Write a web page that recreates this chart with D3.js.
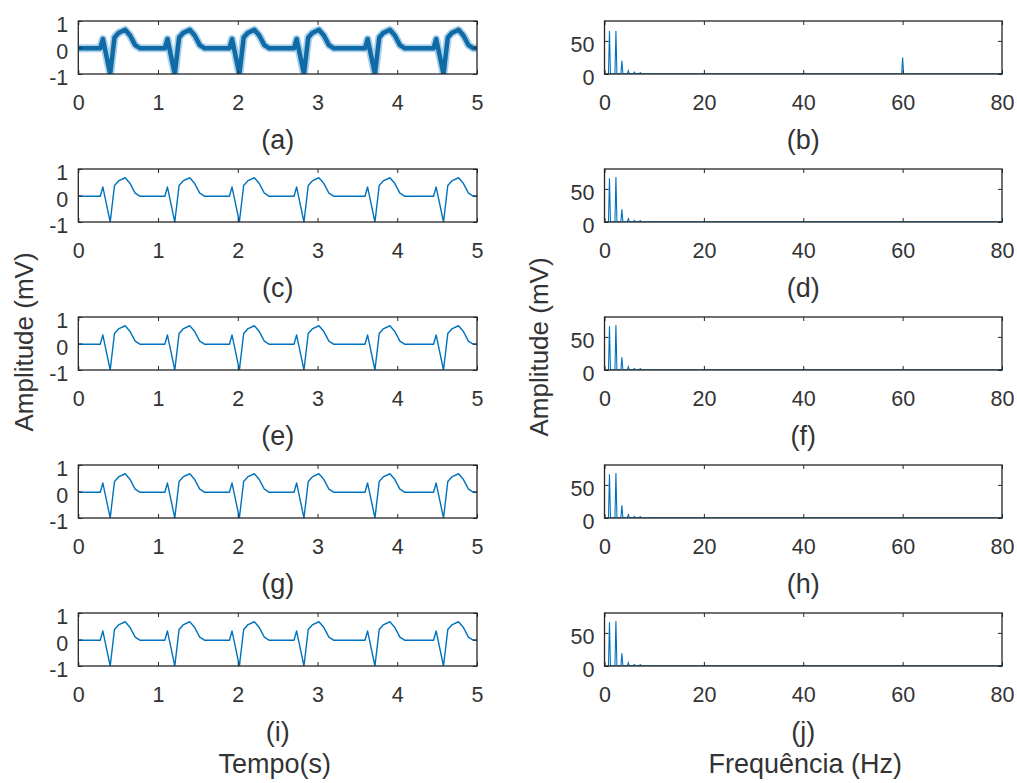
<!DOCTYPE html>
<html>
<head>
<meta charset="utf-8">
<script src="https://cdn.jsdelivr.net/npm/d3@7"></script>
<style>
  body { margin: 0; background: #fff; }
  text { font-family: "Liberation Sans", Arial, sans-serif; fill: #333; }
</style>
</head>
<body>
<svg id="chart" width="1017" height="783"></svg>
<script>
// ECG beat: trough times (s) and the shape around each trough
const beatTimes = [0.40, 1.21, 2.02, 2.83, 3.72, 4.58];
const beatOffsets = [-0.125, -0.092, 0, 0.054, 0.104, 0.188, 0.25, 0.313, 0.376];
const beatValues = [-0.03, 0.32, -1, 0.38, 0.55, 0.67, 0.45, 0.09, -0.03];
const baselineValue = -0.03;

// spectrum peaks (Hz) and amplitudes
const peakFreqs = [1.0, 2.3, 3.5, 4.8, 6.0, 7.2];
const peakAmpsNoisy = [65, 65, 20, 5, 3, 2];
const peakAmpsFiltered = [66, 68, 19, 5, 2.5, 2];
const mainsFreq = 60;
const mainsAmp = 25;

// ticks and labels
const timeTicks = [0, 1, 2, 3, 4, 5];
const ampTicks = [-1, 0, 1];
const freqTicks = [0, 20, 40, 60, 80];
const specTicks = [0, 50];
const timeLetters = ["(a)", "(c)", "(e)", "(g)", "(i)"];
const freqLetters = ["(b)", "(d)", "(f)", "(h)", "(j)"];

const svg = d3.select("#chart");
const rowTop = 21;
const rowStep = 148;
const boxH = 53;
const leftX = [78.3, 477];
const rightX = [604.5, 1002];
const blue = "#0072BD";

// time-domain signal built from the beat shape
function ecgPoints() {
  const pts = [[0, baselineValue]];
  beatTimes.forEach((t) => {
    beatOffsets.forEach((o, i) => pts.push([t + o, beatValues[i]]));
  });
  pts.push([5, baselineValue]);
  return pts.filter((p) => p[0] >= 0 && p[0] <= 5);
}

// spectrum as narrow triangles on a zero floor
function spectrumPoints(amps, extra) {
  const peaks = peakFreqs.map((f, i) => [f, amps[i]]);
  if (extra) peaks.push(extra);
  peaks.sort((a, b) => a[0] - b[0]);
  const pts = [[0, 0]];
  peaks.forEach(([f, a]) => {
    pts.push([f - 0.2, 0.4], [f, a], [f + 0.2, 0.4]);
  });
  pts.push([80, 0.3]);
  return pts;
}

function panel(i, side, letter) {
  const top = rowTop + i * rowStep;
  const bottom = top + boxH;
  const xr = side === "left" ? leftX : rightX;
  const x = d3.scaleLinear().domain(side === "left" ? [0, 5] : [0, 80]).range(xr);
  const y = d3.scaleLinear().domain(side === "left" ? [-1, 1] : [0, 80]).range([bottom, top]);
  const xt = side === "left" ? timeTicks : freqTicks;
  const yt = side === "left" ? ampTicks : specTicks;
  const g = svg.append("g");
  const clipId = `clip-${side}-${i}`;

  g.append("clipPath")
    .attr("id", clipId)
    .append("rect")
    .attr("x", xr[0])
    .attr("y", top)
    .attr("width", xr[1] - xr[0])
    .attr("height", boxH);

  const line = d3.line().x((d) => x(d[0])).y((d) => y(d[1]));
  const plot = g.append("g").attr("clip-path", `url(#${clipId})`);

  if (side === "left") {
    const pts = ecgPoints();
    if (i === 0) {
      // 60 Hz contamination shows as a thick band
      plot.append("path").attr("d", line(pts)).attr("fill", "none")
        .attr("stroke", "#6fb3de").attr("stroke-width", 8).attr("opacity", 0.6)
        .attr("stroke-linejoin", "round");
      plot.append("path").attr("d", line(pts)).attr("fill", "none")
        .attr("stroke", "#106aa5").attr("stroke-width", 4.5)
        .attr("stroke-linejoin", "round");
    } else {
      plot.append("path").attr("d", line(pts)).attr("fill", "none")
        .attr("stroke", blue).attr("stroke-width", 1.4)
        .attr("stroke-linejoin", "round");
    }
  } else {
    const pts = i === 0
      ? spectrumPoints(peakAmpsNoisy, [mainsFreq, mainsAmp])
      : spectrumPoints(peakAmpsFiltered);
    plot.append("path").attr("d", line(pts)).attr("fill", "none")
      .attr("stroke", blue).attr("stroke-width", 1.1);
  }

  // inward ticks on all four sides
  const fmt = (d) => String(d);
  g.append("g").attr("transform", `translate(0,${bottom})`)
    .call(d3.axisBottom(x).tickValues(xt).tickSizeInner(-4).tickSizeOuter(0).tickPadding(21).tickFormat(fmt))
    .call((a) => a.select(".domain").remove());
  g.append("g").attr("transform", `translate(0,${top})`)
    .call(d3.axisTop(x).tickValues(xt).tickSizeInner(-4).tickSizeOuter(0).tickFormat(""))
    .call((a) => a.select(".domain").remove());
  g.append("g").attr("class", "yaxis").attr("transform", `translate(${xr[0]},0)`)
    .call(d3.axisLeft(y).tickValues(yt).tickSizeInner(-4).tickSizeOuter(0).tickPadding(10).tickFormat(fmt))
    .call((a) => a.select(".domain").remove());
  g.append("g").attr("transform", `translate(${xr[1]},0)`)
    .call(d3.axisRight(y).tickValues(yt).tickSizeInner(-4).tickSizeOuter(0).tickFormat(""))
    .call((a) => a.select(".domain").remove());

  g.selectAll(".tick line").attr("stroke", "#262626");
  g.selectAll(".tick text")
    .attr("font-size", 21.5)
    .attr("fill", "#404040")
    .style("font-family", '"Liberation Sans", Arial, sans-serif');
  g.selectAll(".yaxis .tick text").attr("dy", "0.5em");

  // box
  g.append("rect")
    .attr("x", xr[0])
    .attr("y", top)
    .attr("width", xr[1] - xr[0])
    .attr("height", boxH)
    .attr("fill", "none")
    .attr("stroke", "#262626")
    .attr("stroke-width", 1.3);

  // subplot letter
  g.append("text")
    .attr("x", (xr[0] + xr[1]) / 2)
    .attr("y", bottom + 75)
    .attr("text-anchor", "middle")
    .attr("font-size", 27)
    .text(letter);

  return { bottom, cx: (xr[0] + xr[1]) / 2 };
}

let last;
timeLetters.forEach((l, i) => { last = panel(i, "left", l); });
freqLetters.forEach((l, i) => panel(i, "right", l));

// axis titles
svg.append("text")
  .attr("x", (leftX[0] + leftX[1]) / 2 - 3)
  .attr("y", last.bottom + 107)
  .attr("text-anchor", "middle")
  .attr("font-size", 27)
  .text("Tempo(s)");

svg.append("text")
  .attr("x", (rightX[0] + rightX[1]) / 2 + 2)
  .attr("y", last.bottom + 107)
  .attr("text-anchor", "middle")
  .attr("font-size", 27)
  .text("Frequência (Hz)");

svg.append("text")
  .attr("transform", "translate(33,342) rotate(-90)")
  .attr("text-anchor", "middle")
  .attr("font-size", 26)
  .text("Amplitude (mV)");

svg.append("text")
  .attr("transform", "translate(548,347) rotate(-90)")
  .attr("text-anchor", "middle")
  .attr("font-size", 26)
  .text("Amplitude (mV)");
</script>
</body>
</html>
